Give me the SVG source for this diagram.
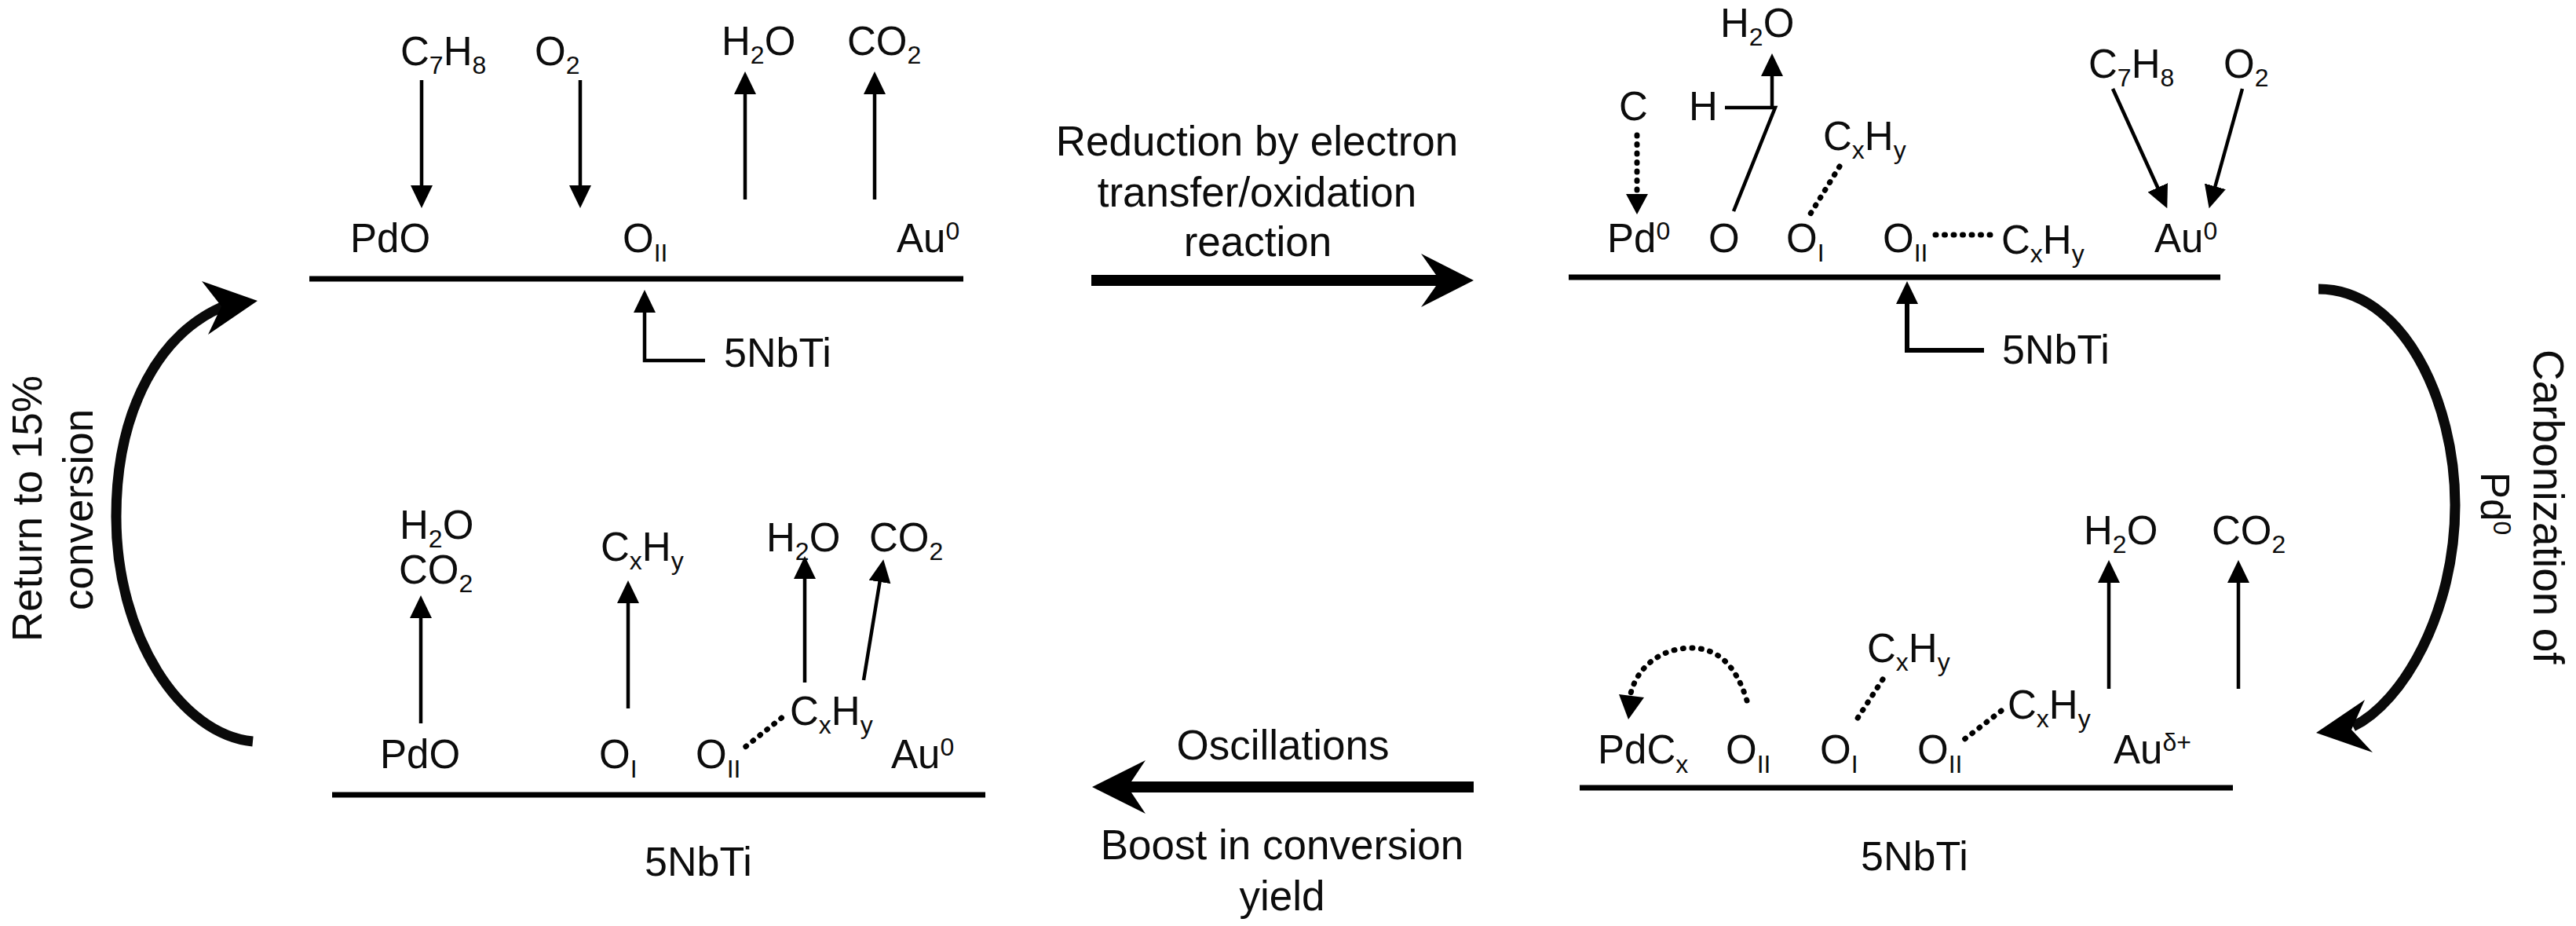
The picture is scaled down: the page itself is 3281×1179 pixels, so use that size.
<svg xmlns="http://www.w3.org/2000/svg" width="3281" height="1179" viewBox="0 0 3281 1179">
<style>
text{font-family:"Liberation Sans",Arial,sans-serif;fill:#0a0a0a;opacity:.99}
.t{font-size:51px}
.n{font-size:52px}
.l{font-size:53px;text-anchor:middle}
.s{font-size:32px}
.surf{stroke:#000;stroke-width:7;fill:none}
.thin{stroke:#000;stroke-width:4.5;fill:none}
.arr{marker-end:url(#head)}
.bold{stroke-width:6}
.dot{stroke:#000;stroke-width:7;fill:none;stroke-linecap:round;stroke-dasharray:1 10.5}
.arc{stroke:#0a0a0a;stroke-width:13;fill:none}
.big{fill:#000;stroke:none}
</style>
<defs>
<marker id="head" markerUnits="userSpaceOnUse" markerWidth="30" markerHeight="30" refX="9" refY="14" orient="auto"><path d="M0 0L29 14L0 28z" fill="#000"/></marker>
</defs>
<rect width="3281" height="1179" fill="#fff"/>
<g id="connectors">
<path class="surf" d="M394 355H1227"/>
<path class="surf" d="M1998 353H2828"/>
<path class="surf" d="M2012 1003H2844"/>
<path class="surf" d="M423 1012H1255"/>
<path class="thin arr" d="M537 102V245"/>
<path class="thin arr" d="M739 102V245"/>
<path class="thin arr" d="M949 254V111"/>
<path class="thin arr" d="M1114 254V111"/>
<path class="thin arr" d="M898 459H821V389"/>
<path class="thin arr" d="M2257 137V88"/>
<path class="thin" d="M2197 137H2257L2261 137L2208 269"/>
<path class="dot" d="M2085 172V250"/>
<path d="M2071 247H2099L2085 273z" fill="#000"/>
<path class="dot" d="M2343 212L2306 272"/>
<path class="dot" d="M2465 299H2540"/>
<path class="thin arr" d="M2691 113L2752 247"/>
<path class="thin arr" d="M2856 113L2819 246"/>
<path class="thin bold arr" d="M2527 446H2429V378"/>
<path class="thin arr" d="M2686 877V733"/>
<path class="thin arr" d="M2851 877V733"/>
<path class="dot" d="M2225 892C2212 850 2190 825 2154 825C2115 825 2085 850 2077 883"/>
<path d="M2062 884L2094 888L2074 916z" fill="#000"/>
<path class="dot" d="M2398 865L2361 922"/>
<path class="dot" d="M2549 905L2501 942"/>
<path class="thin arr" d="M536 921V778"/>
<path class="thin arr" d="M800 902V759"/>
<path class="thin arr" d="M1025 869V728"/>
<path class="thin arr" d="M1100 866L1122 732"/>
<path class="dot" d="M995.5 914L948 952"/>
<path class="arc" d="M322 944C230 935 148 810 148 658C148 520 205 420 290 388"/>
<path class="big" d="M328 383L257 358L282 390L265 426z"/>
<path class="arc" d="M2953 368C3060 368 3127 510 3127 643C3127 780 3060 895 2997 925"/>
<path class="big" d="M2950 933L3012 891L2995 929L3022 958z"/>
<path class="big" d="M1390 350H1829L1810 323L1877 357L1810 391L1829 364H1390z"/>
<path class="big" d="M1877 995H1441L1459 968L1391 1002L1459 1036L1441 1009H1877z"/>
</g>
<g id="state-top-left">
<g id="tl-c7h8"><text class="t" x="510" y="83">C<tspan class="s" dy="11">7</tspan><tspan dy="-11">H</tspan><tspan class="s" dy="11">8</tspan></text></g>
<g id="tl-o2"><text class="t" x="681" y="83">O<tspan class="s" dy="11">2</tspan></text></g>
<g id="tl-h2o"><text class="t" x="919" y="70">H<tspan class="s" dy="11">2</tspan><tspan dy="-11">O</tspan></text></g>
<g id="tl-co2"><text class="t" x="1079" y="70">CO<tspan class="s" dy="11">2</tspan></text></g>
<g id="tl-pdo"><text class="t" x="446" y="321">PdO</text></g>
<g id="tl-oii"><text class="t" x="793" y="321">O<tspan class="s" dy="12">II</tspan></text></g>
<g id="tl-au"><text class="t" x="1142" y="321">Au<tspan class="s" dy="-16">0</tspan></text></g>
<g id="tl-support"><text class="n" x="922" y="467">5NbTi</text></g>
</g>
<g id="state-top-right">
<g id="tr-h2o"><text class="t" x="2191" y="47">H<tspan class="s" dy="11">2</tspan><tspan dy="-11">O</tspan></text></g>
<g id="tr-c"><text class="t" x="2062" y="153">C</text></g>
<g id="tr-h"><text class="t" x="2151" y="153">H</text></g>
<g id="tr-cxhy1"><text class="t" x="2322" y="191">C<tspan class="s" dy="11">x</tspan><tspan dy="-11">H</tspan><tspan class="s" dy="11">y</tspan></text></g>
<g id="tr-pd"><text class="t" x="2047" y="321">Pd<tspan class="s" dy="-16">0</tspan></text></g>
<g id="tr-o"><text class="t" x="2176" y="321">O</text></g>
<g id="tr-oi"><text class="t" x="2275" y="321">O<tspan class="s" dy="12">I</tspan></text></g>
<g id="tr-oii"><text class="t" x="2398" y="321">O<tspan class="s" dy="12">II</tspan></text></g>
<g id="tr-cxhy2"><text class="t" x="2549" y="323">C<tspan class="s" dy="11">x</tspan><tspan dy="-11">H</tspan><tspan class="s" dy="11">y</tspan></text></g>
<g id="tr-au"><text class="t" x="2744" y="321">Au<tspan class="s" dy="-16">0</tspan></text></g>
<g id="tr-c7h8"><text class="t" x="2660" y="99">C<tspan class="s" dy="11">7</tspan><tspan dy="-11">H</tspan><tspan class="s" dy="11">8</tspan></text></g>
<g id="tr-o2"><text class="t" x="2832" y="99">O<tspan class="s" dy="11">2</tspan></text></g>
<g id="tr-support"><text class="n" x="2550" y="463">5NbTi</text></g>
</g>
<g id="state-bottom-right">
<g id="br-h2o"><text class="t" x="2654" y="693">H<tspan class="s" dy="11">2</tspan><tspan dy="-11">O</tspan></text></g>
<g id="br-co2"><text class="t" x="2817" y="693">CO<tspan class="s" dy="11">2</tspan></text></g>
<g id="br-pdcx"><text class="t" x="2035" y="972">PdC<tspan class="s" dy="12">x</tspan></text></g>
<g id="br-oii1"><text class="t" x="2198" y="972">O<tspan class="s" dy="12">II</tspan></text></g>
<g id="br-oi"><text class="t" x="2318" y="972">O<tspan class="s" dy="12">I</tspan></text></g>
<g id="br-oii2"><text class="t" x="2442" y="972">O<tspan class="s" dy="12">II</tspan></text></g>
<g id="br-au"><text class="t" x="2692" y="972">Au<tspan class="s" dy="-16">δ+</tspan></text></g>
<g id="br-cxhy1"><text class="t" x="2378" y="843">C<tspan class="s" dy="11">x</tspan><tspan dy="-11">H</tspan><tspan class="s" dy="11">y</tspan></text></g>
<g id="br-cxhy2"><text class="t" x="2557" y="915">C<tspan class="s" dy="11">x</tspan><tspan dy="-11">H</tspan><tspan class="s" dy="11">y</tspan></text></g>
<g id="br-support"><text class="n" x="2370" y="1108">5NbTi</text></g>
</g>
<g id="state-bottom-left">
<g id="bl-h2o1"><text class="t" x="509" y="686">H<tspan class="s" dy="11">2</tspan><tspan dy="-11">O</tspan></text></g>
<g id="bl-co2"><text class="t" x="508" y="743">CO<tspan class="s" dy="11">2</tspan></text></g>
<g id="bl-pdo"><text class="t" x="484" y="978">PdO</text></g>
<g id="bl-cxhy1"><text class="t" x="765" y="714">C<tspan class="s" dy="11">x</tspan><tspan dy="-11">H</tspan><tspan class="s" dy="11">y</tspan></text></g>
<g id="bl-oi"><text class="t" x="763" y="978">O<tspan class="s" dy="12">I</tspan></text></g>
<g id="bl-oii"><text class="t" x="886" y="978">O<tspan class="s" dy="12">II</tspan></text></g>
<g id="bl-cxhy2"><text class="t" x="1006" y="923">C<tspan class="s" dy="11">x</tspan><tspan dy="-11">H</tspan><tspan class="s" dy="11">y</tspan></text></g>
<g id="bl-h2o2"><text class="t" x="976" y="702">H<tspan class="s" dy="11">2</tspan><tspan dy="-11">O</tspan></text></g>
<g id="bl-co22"><text class="t" x="1107" y="702">CO<tspan class="s" dy="11">2</tspan></text></g>
<g id="bl-au"><text class="t" x="1135" y="978">Au<tspan class="s" dy="-16">0</tspan></text></g>
<g id="bl-support"><text class="n" x="821" y="1115">5NbTi</text></g>
</g>
<g id="labels">
<g id="label-reduction"><text class="l" x="1601" y="198">Reduction by electron</text><text class="l" x="1601" y="263">transfer/oxidation</text><text class="l" x="1602" y="326">reaction</text></g>
<g id="label-oscillations"><text class="l" x="1634" y="967">Oscillations</text></g>
<g id="label-boost"><text class="l" x="1633" y="1094">Boost in conversion</text><text class="l" x="1633" y="1159">yield</text></g>
<g id="label-return"><text style="font-size:53px" transform="translate(53 817) rotate(-90)">Return to 15%</text><text style="font-size:53px" transform="translate(118 777) rotate(-90)">conversion</text></g>
<g id="label-carbon"><text style="font-size:55px" transform="translate(3227 445) rotate(90)">Carbonization of</text><text class="t" transform="translate(3160 601) rotate(90)">Pd<tspan class="s" dy="-16">0</tspan></text></g>
</g>
</svg>
